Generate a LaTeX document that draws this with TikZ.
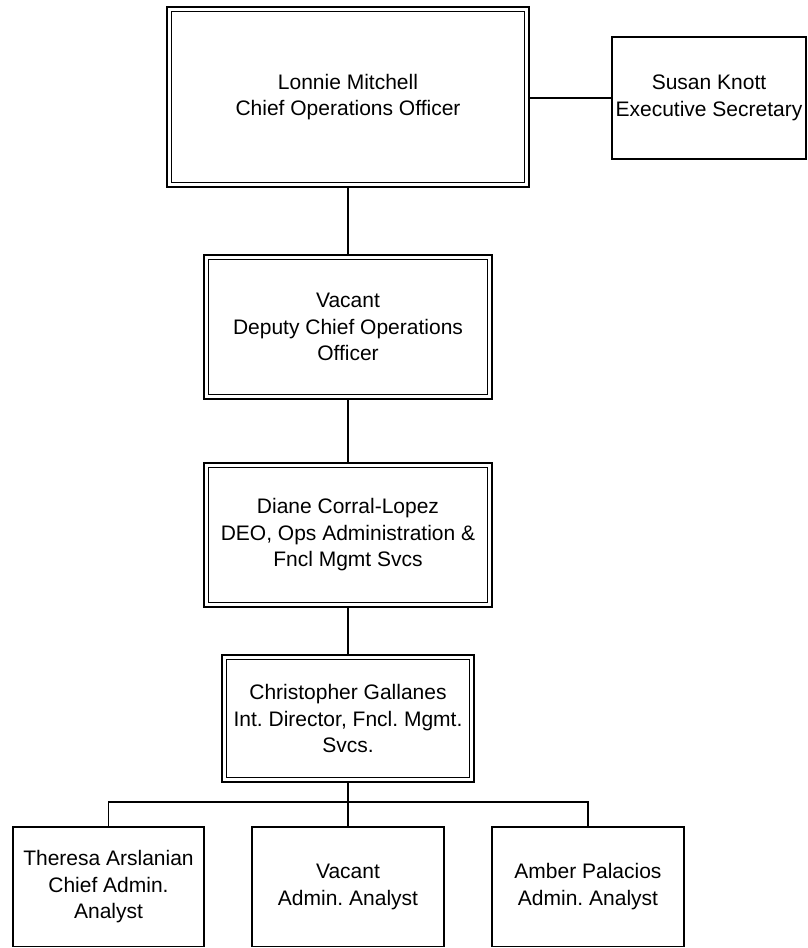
\documentclass[tikz,border=0pt]{standalone}
\usepackage{fontspec}
\setmainfont{Liberation Sans}
\begin{document}
\frenchspacing
\begin{tikzpicture}[x=1pt,y=-1pt,
  txt/.style={align=center, font=\fontsize{21}{26.5}\selectfont\frenchspacing, text=black},
  dbox/.style={txt, draw, double, double distance=3pt, line width=1.3pt, inner sep=0pt, outer sep=2.8pt},
  sbox/.style={txt, draw, line width=1.3pt, inner sep=0pt, outer sep=0.65pt},
  conn/.style={draw, line width=1.3pt}]
\useasboundingbox (0,0) rectangle (807,948);
\node[dbox, minimum width=357.6pt, minimum height=175.6pt] (top) at (348,97)
  {Lonnie Mitchell\\Chief Operations Officer};
\node[sbox, minimum width=194pt, minimum height=122pt] (sk) at (709,98)
  {Susan Knott\\Executive Secretary};
\node[dbox, minimum width=283.6pt, minimum height=139.6pt] (b2) at (348,327)
  {Vacant\\Deputy Chief Operations\\Officer};
\node[dbox, minimum width=283.6pt, minimum height=139.6pt] (b3) at (348,535)
  {Diane Corral-Lopez\\DEO, Ops Administration \&\\Fncl Mgmt Svcs};
\node[dbox, minimum width=247.6pt, minimum height=122.6pt] (b4) at (348,718.5)
  {Christopher Gallanes\\Int. Director, Fncl. Mgmt.\\Svcs.};
\node[sbox, minimum width=191pt, minimum height=119.5pt] (a1) at (108.5,886.75)
  {Theresa Arslanian\\Chief Admin.\\Analyst};
\node[sbox, minimum width=192pt, minimum height=119.5pt] (a2) at (348,886.75)
  {Vacant\\Admin. Analyst};
\node[sbox, minimum width=192pt, minimum height=119.5pt] (a3) at (588,886.75)
  {Amber Palacios\\Admin. Analyst};
\coordinate (bus) at (348,802);
\path[conn] (sk.west) -- (sk.west -| top.east);
\path[conn] (top.south) -- (b2.north);
\path[conn] (b2.south) -- (b3.north);
\path[conn] (b3.south) -- (b4.north);
\path[conn] (b4.south) -- (bus);
\path[conn] (a1.north) -- (a1.north |- bus) -- (a3.north |- bus) -- (a3.north);
\path[conn] (bus) -- (a2.north);
\end{tikzpicture}
\end{document}
